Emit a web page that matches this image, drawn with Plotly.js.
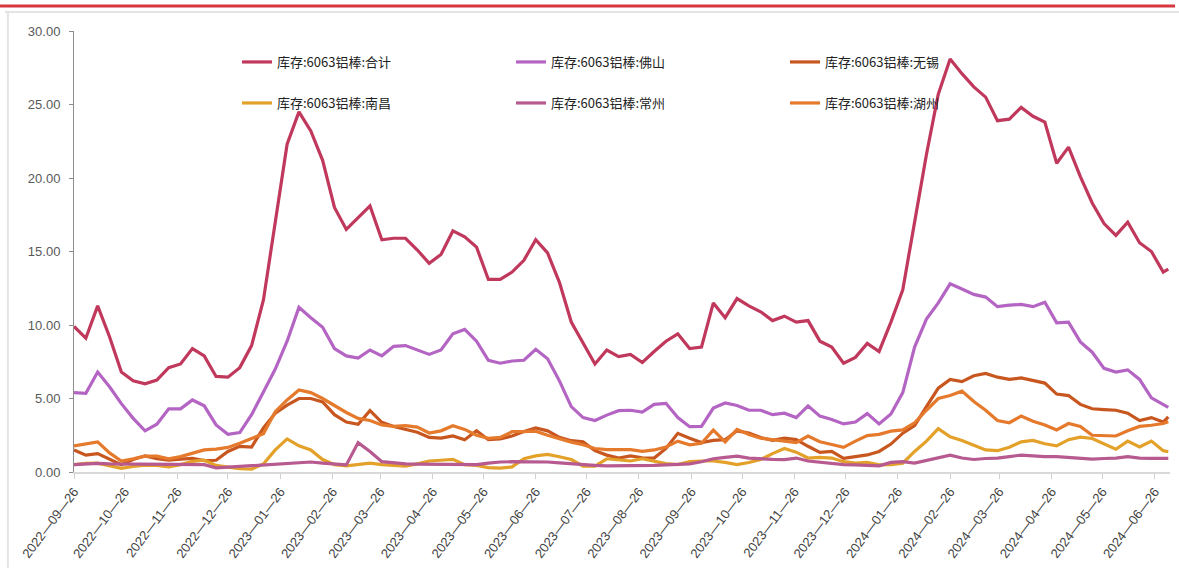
<!DOCTYPE html>
<html>
<head>
<meta charset="utf-8">
<script src="https://cdn.plot.ly/plotly-3.0.1.min.js"></script>
<style>
  html, body { margin: 0; padding: 0; background: #ffffff; }
  #chart { width: 1179px; height: 568px; }
</style>
</head>
<body>
<div id="chart"></div>
<script>
// ---- data (万吨), weekly readings ----
const dates = ['2022-09-26','2022-10-03','2022-10-10','2022-10-17','2022-10-24','2022-10-31','2022-11-07','2022-11-14','2022-11-21','2022-11-28',
'2022-12-05','2022-12-12','2022-12-19','2022-12-26','2023-01-02','2023-01-09','2023-01-16','2023-01-23','2023-01-30','2023-02-06',
'2023-02-13','2023-02-20','2023-02-27','2023-03-06','2023-03-13','2023-03-20','2023-03-27','2023-04-03','2023-04-10','2023-04-17',
'2023-04-24','2023-05-01','2023-05-08','2023-05-15','2023-05-22','2023-05-29','2023-06-05','2023-06-12','2023-06-19','2023-06-26',
'2023-07-03','2023-07-10','2023-07-17','2023-07-24','2023-07-31','2023-08-07','2023-08-14','2023-08-21','2023-08-28','2023-09-04',
'2023-09-11','2023-09-18','2023-09-25','2023-10-02','2023-10-09','2023-10-16','2023-10-23','2023-10-30','2023-11-06','2023-11-13',
'2023-11-20','2023-11-27','2023-12-04','2023-12-11','2023-12-18','2023-12-25','2024-01-01','2024-01-08','2024-01-15','2024-01-22',
'2024-01-29','2024-02-05','2024-02-12','2024-02-19','2024-02-26','2024-03-04','2024-03-11','2024-03-18','2024-03-25','2024-04-01',
'2024-04-08','2024-04-15','2024-04-22','2024-04-29','2024-05-06','2024-05-13','2024-05-20','2024-05-27','2024-06-03','2024-06-10',
'2024-06-17','2024-06-24','2024-07-01','2024-07-04'];

const seriesNames = ['库存:6063铝棒:合计','库存:6063铝棒:佛山','库存:6063铝棒:无锡','库存:6063铝棒:南昌','库存:6063铝棒:常州','库存:6063铝棒:湖州'];

const total = [9.9,9.1,11.3,9.2,6.8,6.2,6.0,6.25,7.1,7.35,
8.4,7.9,6.5,6.45,7.1,8.6,11.7,17.0,22.3,24.5,
23.2,21.2,18.0,16.5,17.3,18.1,15.8,15.9,15.9,15.1,
14.2,14.8,16.4,16.0,15.3,13.1,13.1,13.6,14.4,15.8,
14.9,12.9,10.2,8.8,7.35,8.3,7.85,8.0,7.45,8.2,
8.9,9.4,8.4,8.5,11.5,10.5,11.8,11.3,10.9,10.3,
10.6,10.2,10.3,8.9,8.5,7.4,7.8,8.75,8.2,10.2,
12.4,17.0,21.6,25.7,28.1,27.1,26.2,25.5,23.9,24.0,
24.8,24.2,23.8,21.0,22.1,20.1,18.3,16.9,16.1,17.0,
15.6,15.0,13.6,13.8];

const foshan = [5.4,5.35,6.8,5.8,4.65,3.65,2.8,3.25,4.3,4.3,
4.9,4.5,3.2,2.56,2.68,3.9,5.45,7.0,8.9,11.2,
10.5,9.85,8.4,7.9,7.75,8.3,7.9,8.55,8.6,8.3,
8.0,8.3,9.4,9.7,8.9,7.6,7.4,7.55,7.6,8.35,
7.7,6.2,4.45,3.7,3.5,3.87,4.17,4.2,4.08,4.6,
4.67,3.7,3.08,3.1,4.35,4.7,4.52,4.2,4.2,3.9,
4.0,3.7,4.5,3.8,3.57,3.27,3.4,3.97,3.27,3.95,
5.4,8.5,10.4,11.5,12.8,12.45,12.08,11.9,11.25,11.35,
11.4,11.25,11.55,10.15,10.2,8.85,8.15,7.05,6.8,6.95,
6.3,5.05,4.57,4.4];

const wuxi = [1.5,1.15,1.25,0.9,0.5,0.85,1.1,0.9,0.8,0.87,
0.93,0.78,0.8,1.4,1.75,1.7,3.0,4.0,4.55,5.0,
5.0,4.77,3.9,3.4,3.25,4.17,3.38,3.1,2.9,2.7,
2.35,2.3,2.45,2.2,2.8,2.2,2.25,2.45,2.75,3.0,
2.8,2.36,2.13,2.05,1.45,1.15,0.95,1.1,0.97,0.95,
1.6,2.63,2.29,2.0,2.15,2.2,2.8,2.65,2.35,2.15,
2.3,2.2,1.75,1.33,1.4,0.93,1.05,1.16,1.4,1.9,
2.64,3.15,4.45,5.7,6.3,6.15,6.55,6.7,6.45,6.3,
6.4,6.25,6.05,5.3,5.2,4.6,4.3,4.25,4.2,4.0,
3.5,3.7,3.4,3.75];

const nanchang = [0.5,0.58,0.6,0.4,0.25,0.38,0.46,0.45,0.35,0.5,
0.72,0.8,0.45,0.33,0.22,0.2,0.55,1.5,2.25,1.78,
1.5,0.85,0.5,0.42,0.5,0.6,0.5,0.45,0.4,0.55,
0.75,0.8,0.86,0.5,0.45,0.3,0.26,0.35,0.9,1.1,
1.2,1.04,0.85,0.4,0.4,0.9,0.8,0.75,0.9,0.72,
0.57,0.5,0.7,0.75,0.75,0.65,0.5,0.65,0.85,1.25,
1.6,1.35,0.95,1.0,0.95,0.7,0.6,0.65,0.48,0.5,
0.6,1.4,2.1,2.95,2.4,2.15,1.8,1.5,1.45,1.68,
2.05,2.15,1.92,1.78,2.2,2.37,2.28,1.9,1.55,2.1,
1.7,2.1,1.45,1.38];

const changzhou = [0.5,0.55,0.58,0.55,0.55,0.55,0.55,0.55,0.55,0.55,
0.55,0.5,0.28,0.33,0.37,0.42,0.48,0.55,0.6,0.63,
0.68,0.6,0.55,0.48,2.0,1.4,0.7,0.6,0.55,0.53,
0.52,0.52,0.52,0.5,0.5,0.6,0.68,0.7,0.7,0.7,
0.68,0.62,0.55,0.5,0.45,0.42,0.42,0.42,0.43,0.45,
0.48,0.5,0.55,0.7,0.9,1.0,1.08,0.95,0.88,0.86,
0.84,0.95,0.75,0.65,0.6,0.5,0.48,0.45,0.42,0.65,
0.7,0.6,0.8,0.95,1.15,0.95,0.85,0.92,0.95,1.05,
1.15,1.1,1.04,1.04,1.0,0.95,0.88,0.92,0.95,1.04,
0.95,0.93,0.93,0.93];

const huzhou = [1.77,1.9,2.05,1.3,0.75,0.9,1.08,1.08,0.9,1.05,
1.3,1.5,1.56,1.67,1.95,2.3,2.6,4.1,4.9,5.58,
5.4,5.0,4.5,4.05,3.65,3.5,3.2,3.1,3.15,3.05,
2.65,2.8,3.15,2.9,2.5,2.29,2.35,2.74,2.74,2.78,
2.5,2.25,2.03,1.85,1.6,1.52,1.5,1.52,1.4,1.5,
1.7,2.1,1.85,1.95,2.85,2.05,2.9,2.55,2.3,2.2,
2.07,2.0,2.45,2.06,1.87,1.68,2.1,2.48,2.56,2.78,
2.86,3.35,4.2,5.0,5.2,5.5,4.8,4.2,3.5,3.35,
3.8,3.45,3.2,2.86,3.3,3.1,2.5,2.45,2.45,2.8,
3.1,3.18,3.3,3.42];

const yTicks = [0, 5, 10, 15, 20, 25, 30];
const xTickDates = ['2022-09-26','2022-10-26','2022-11-26','2022-12-26','2023-01-26','2023-02-26','2023-03-26','2023-04-26',
'2023-05-26','2023-06-26','2023-07-26','2023-08-26','2023-09-26','2023-10-26','2023-11-26','2023-12-26',
'2024-01-26','2024-02-26','2024-03-26','2024-04-26','2024-05-26','2024-06-26'];
const xTickLabels = xTickDates.map(d => d.split('-').join('—'));

// ---- styling ----
const colors = ['#c0385c', '#b465c3', '#c8561f', '#e3a12a', '#b65a90', '#e57a2c'];
const values = [total, foshan, wuxi, nanchang, changzhou, huzhou];
const legendOf = ['legend', 'legend', 'legend', 'legend2', 'legend2', 'legend2'];

const traces = values.map((v, i) => ({
  type: 'scatter',
  mode: 'lines',
  x: dates,
  y: v,
  name: seriesNames[i],
  legend: legendOf[i],
  line: { color: colors[i], width: 3.2 },
  hoverinfo: 'skip'
}));

const legendBase = {
  orientation: 'h',
  xanchor: 'left',
  yanchor: 'middle',
  x: 0.1487,
  entrywidth: 229,
  entrywidthmode: 'pixels',
  bgcolor: 'rgba(0,0,0,0)',
  borderwidth: 0,
  font: { family: '"Noto Sans CJK SC", sans-serif', size: 13, color: '#222222' },
  traceorder: 'normal'
};

const layout = {
  width: 1179,
  height: 568,
  margin: { l: 74, r: 9, t: 31, b: 96 },
  paper_bgcolor: '#ffffff',
  plot_bgcolor: '#ffffff',
  font: { family: '"Liberation Sans", Arial, sans-serif', size: 13, color: '#595959' },
  showlegend: true,
  legend: Object.assign({}, legendBase, { y: 0.9297 }),
  legend2: Object.assign({}, legendBase, { y: 0.8367 }),
  xaxis: {
    type: 'date',
    range: ['2022-09-26', '2024-07-05'],
    tickmode: 'array',
    tickvals: xTickDates,
    ticktext: xTickLabels,
    tickangle: -53,
    tickfont: { size: 13, color: '#404040' },
    showgrid: false,
    zeroline: false,
    showline: true,
    linecolor: '#d9d9d9',
    linewidth: 2,
    ticks: 'outside',
    ticklen: 5,
    tickcolor: '#d0d0d0',
    automargin: false,
    fixedrange: true
  },
  yaxis: {
    range: [0, 30],
    tickvals: yTicks,
    tickformat: '.2f',
    tickfont: { size: 13, color: '#595959' },
    showgrid: false,
    zeroline: false,
    showline: true,
    linecolor: '#8c8c8c',
    linewidth: 1,
    ticks: 'outside',
    ticklen: 4,
    tickcolor: '#8c8c8c',
    ticklabelstandoff: 6,
    automargin: false,
    fixedrange: true
  },
  shapes: [
    { type: 'line', xref: 'paper', yref: 'paper', x0: -0.0675, x1: 1.0046, y0: 1.0567, y1: 1.0567,
      line: { color: '#d7383f', width: 3 } },
    { type: 'line', xref: 'paper', yref: 'paper', x0: -0.063, x1: 1.01, y0: 1.0431, y1: 1.0431,
      line: { color: '#e4e4e4', width: 2 } },
    { type: 'line', xref: 'paper', yref: 'paper', x0: -0.0603, x1: -0.0603, y0: 1.0431, y1: -0.25,
      line: { color: '#e4e4e4', width: 2 } }
  ]
};

Plotly.newPlot('chart', traces, layout, { staticPlot: true, displayModeBar: false });
</script>
</body>
</html>
